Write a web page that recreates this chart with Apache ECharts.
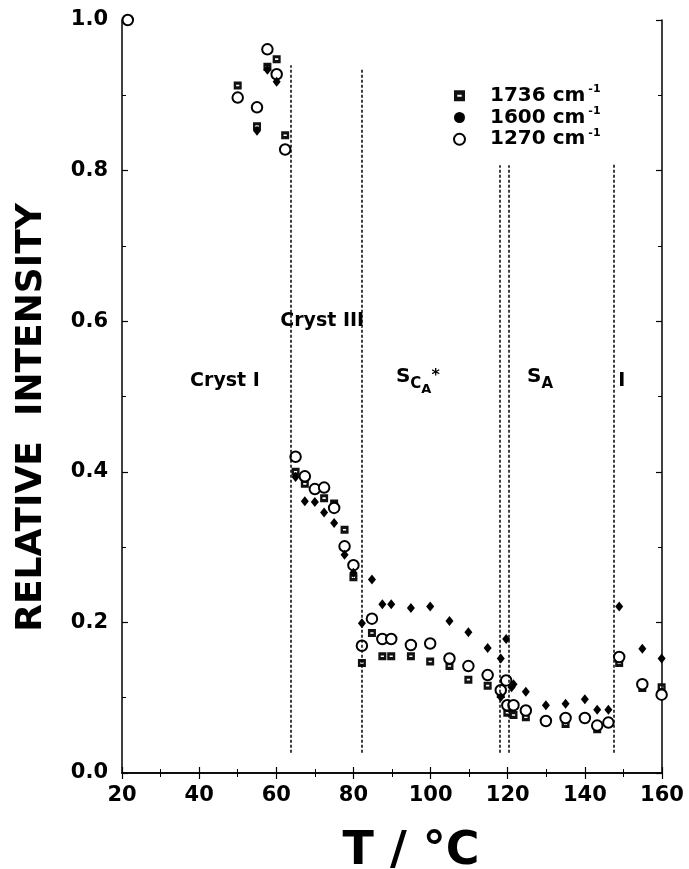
<!DOCTYPE html>
<html><head><meta charset="utf-8">
<script src="https://cdn.jsdelivr.net/npm/echarts@6/dist/echarts.min.js"></script>
<style>html,body{margin:0;padding:0;background:#fff}#c{width:689px;height:869px}</style>
</head><body><div id="c"></div>
<script>
// ---- data ----
const T_1736 = [50, 55, 57.7, 60.1, 62.3, 65, 67.4, 72.4, 75, 77.7, 80, 82.2, 84.8, 87.5, 89.8, 94.9, 99.9, 104.9, 109.8, 114.8, 118.2, 119.9, 121.5, 124.7, 135, 143.2, 148.9, 154.9, 159.9];
const V_1736 = [0.913, 0.859, 0.938, 0.948, 0.847, 0.400, 0.384, 0.365, 0.358, 0.323, 0.260, 0.146, 0.186, 0.155, 0.155, 0.155, 0.148, 0.142, 0.124, 0.116, 0.105, 0.080, 0.077, 0.074, 0.065, 0.058, 0.146, 0.113, 0.114];

const T_1600 = [55, 57.7, 60.1, 65, 67.4, 70, 72.4, 75, 77.7, 80, 82.2, 84.8, 87.5, 89.8, 94.9, 99.9, 104.9, 109.8, 114.8, 118.2, 118.2, 119.6, 121.0, 121.5, 124.7, 129.9, 135, 140, 143.2, 146.1, 148.9, 154.9, 159.9];
const V_1600 = [0.853, 0.934, 0.918, 0.393, 0.361, 0.360, 0.346, 0.332, 0.290, 0.266, 0.199, 0.257, 0.224, 0.224, 0.219, 0.221, 0.202, 0.187, 0.166, 0.152, 0.101, 0.178, 0.114, 0.118, 0.108, 0.090, 0.092, 0.098, 0.084, 0.084, 0.221, 0.165, 0.152];

const T_1270 = [21.5, 50, 55, 57.7, 60.1, 62.3, 65, 67.4, 70, 72.4, 75, 77.7, 80, 82.2, 84.8, 87.5, 89.8, 94.9, 99.9, 104.9, 109.8, 114.8, 118.2, 119.6, 119.9, 121.5, 124.7, 129.9, 135, 140, 143.2, 146.1, 148.9, 154.9, 159.9];
const V_1270 = [1.000, 0.897, 0.884, 0.961, 0.928, 0.828, 0.420, 0.394, 0.377, 0.379, 0.352, 0.301, 0.276, 0.169, 0.205, 0.178, 0.178, 0.170, 0.172, 0.152, 0.142, 0.130, 0.110, 0.123, 0.090, 0.090, 0.083, 0.069, 0.073, 0.073, 0.063, 0.067, 0.154, 0.118, 0.104];

const seriesNames = ['1736 cm-1', '1600 cm-1', '1270 cm-1'];
const xTickLabels = [20, 40, 60, 80, 100, 120, 140, 160];
const yTickLabels = ['0.0', '0.2', '0.4', '0.6', '0.8', '1.0'];

// phase boundaries (dashed lines): temperature, top value, bottom value
const boundaryT = [63.7, 82.2, 118.0, 120.3, 147.6];
const boundaryTop = [0.94, 0.936, 0.807, 0.807, 0.81];
const boundaryBottom = 0.027;

// phase names and where they sit (data coordinates)
const phaseNames = ['Cryst I', 'Cryst III', '{m|S}{c|C}{a|A}{st|*}', '{m|S}{c|A}', 'I'];
const phaseT = [46.7, 71.9, 96.7, 128.4, 149.6];
const phaseV = [0.52, 0.60, 0.52, 0.52, 0.52];

// ---- chart ----
const FONT = 'DejaVu Sans';
const zip = (a, b) => a.map((t, i) => [t, b[i]]);
const squarePath = 'path://M0,0H10V10H0Z M3,4V6H7V4Z';

const chart = echarts.init(document.getElementById('c'));
const tickCommon = {
  axisLine: { show: true, lineStyle: { color: '#000', width: 1.5 } },
  axisTick: { show: true, inside: true, length: 6, lineStyle: { color: '#000', width: 1.2 } },
  minorTick: { show: true, splitNumber: 2, length: 4, lineStyle: { color: '#000', width: 1 } },
  splitLine: { show: false }
};
const txt = (size, extra) => Object.assign({ fontFamily: FONT, fontWeight: 'bold', fontSize: size, color: '#000', textBorderWidth: 0, opacity: 1 }, extra || {});
chart.setOption({
  animation: false,
  backgroundColor: '#fff',
  grid: { left: 122, right: 27, top: 20, bottom: 96, containLabel: false, outerBoundsMode: 'none' },
  xAxis: [
    Object.assign({
      type: 'value', min: 20, max: 160, interval: 20,
      name: 'T / °C', nameLocation: 'middle', nameGap: 56,
      nameTextStyle: txt(46, { padding: [0, 0, 0, 38] }),
      axisLabel: Object.assign(txt(21), { margin: 12, formatter: v => xTickLabels.includes(v) ? String(v) : '' })
    }, tickCommon),
    Object.assign({
      type: 'value', min: 20, max: 160, interval: 20, position: 'top',
      axisLabel: { show: false }
    }, tickCommon)
  ],
  yAxis: [
    Object.assign({
      type: 'value', min: 0, max: 1.0, interval: 0.2,
      name: 'RELATIVE  INTENSITY', nameLocation: 'middle', nameGap: 72,
      nameTextStyle: txt(36, { padding: [0, 42, 0, 0] }),
      axisLabel: Object.assign(txt(21), { margin: 14, formatter: v => yTickLabels[Math.round(v / 0.2)] })
    }, tickCommon),
    Object.assign({
      type: 'value', min: 0, max: 1.0, interval: 0.2, position: 'right',
      axisLabel: { show: false }
    }, tickCommon)
  ],
  legend: {
    orient: 'vertical', left: 448, top: 79, itemGap: 0,
    itemWidth: 11, itemHeight: 11,
    data: [
      { name: seriesNames[0], icon: squarePath },
      { name: seriesNames[1], icon: 'circle', itemStyle: { color: '#000', borderWidth: 0 } },
      { name: seriesNames[2], icon: 'circle' }
    ],
    formatter: name => '{n|' + name.replace('-1', '') + '}{s|-1}',
    textStyle: {
      padding: [0, 0, 0, 20],
      rich: {
        n: txt(20, { lineHeight: 23.5 }),
        s: txt(11, { verticalAlign: 'top', padding: [0, 0, 0, 3] })
      }
    }
  },
  series: [
    {
      name: seriesNames[0], type: 'scatter', data: zip(T_1736, V_1736),
      symbol: squarePath, symbolSize: 8, itemStyle: { color: '#111', opacity: 1 }, z: 3
    },
    {
      name: seriesNames[2], type: 'scatter', data: zip(T_1270, V_1270),
      symbol: 'circle', symbolSize: 10.5,
      itemStyle: { color: '#fff', borderColor: '#000', borderWidth: 2, opacity: 1 }, z: 4
    },
    {
      name: seriesNames[1], type: 'scatter', data: zip(T_1600, V_1600),
      symbol: 'diamond', symbolSize: [8, 10], itemStyle: { color: '#000', opacity: 1 }, z: 5
    },
    {
      name: 'boundaries', type: 'line', data: [], silent: true,
      markLine: {
        silent: true, symbol: ['none', 'none'], label: { show: false },
        lineStyle: { type: [3, 2], color: '#000', width: 1.5 },
        data: boundaryT.map((t, i) => [{ coord: [t, boundaryBottom] }, { coord: [t, boundaryTop[i]] }])
      }
    },
    {
      name: 'phases', type: 'scatter', silent: true, symbolSize: 1, z: 6,
      itemStyle: { color: '#fff', opacity: 1 },
      data: phaseNames.map((n, i) => ({ value: [phaseT[i], phaseV[i]], label: { formatter: n } })),
      label: Object.assign(txt(19), {
        show: true, position: 'inside',
        rich: {
          m: txt(20, { verticalAlign: 'bottom', padding: [0, 0, 9, 0] }),
          c: txt(15, { verticalAlign: 'bottom', padding: [0, 0, 4, 0] }),
          a: txt(13, { verticalAlign: 'bottom' }),
          st: txt(16, { verticalAlign: 'bottom', padding: [0, 0, 12, 0] })
        }
      })
    }
  ]
});
</script></body></html>
